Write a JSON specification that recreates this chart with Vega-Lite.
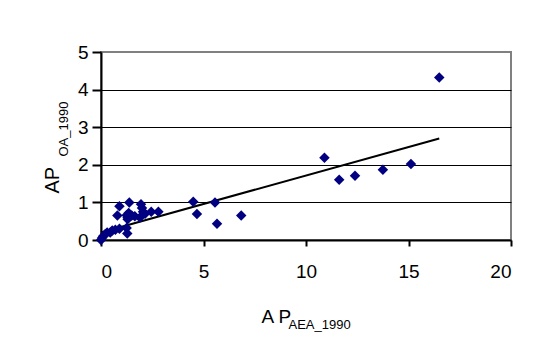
{
  "$schema": "https://vega.github.io/schema/vega-lite/v6.json",
  "autosize": "none",
  "width": 410,
  "height": 188,
  "padding": {"left": 101, "top": 52, "right": 26, "bottom": 111},
  "background": "white",
  "config": {
    "font": "Liberation Sans",
    "view": {"stroke": "#808080", "strokeWidth": 2},
    "axis": {"labelFont": "Liberation Sans", "titleFont": "Liberation Sans", "labelColor": "black", "titleColor": "black", "titleFontWeight": "normal"}
  },
  "datasets": {
    "points": [
      {"x": 0, "y": 0}, {"x": 0.05, "y": 0.05}, {"x": 0.1, "y": 0.1}, {"x": 0.2, "y": 0.15},
      {"x": 0.3, "y": 0.2}, {"x": 0.45, "y": 0.2}, {"x": 0.55, "y": 0.25}, {"x": 0.7, "y": 0.27},
      {"x": 0.9, "y": 0.3}, {"x": 1.25, "y": 0.32}, {"x": 1.28, "y": 0.17},
      {"x": 0.8, "y": 0.65}, {"x": 0.9, "y": 0.9}, {"x": 1.3, "y": 0.6}, {"x": 1.25, "y": 0.66},
      {"x": 1.35, "y": 0.72}, {"x": 1.38, "y": 1.0}, {"x": 1.5, "y": 0.65}, {"x": 1.65, "y": 0.63},
      {"x": 1.9, "y": 0.6}, {"x": 1.95, "y": 0.95}, {"x": 2.0, "y": 0.85}, {"x": 2.05, "y": 0.75},
      {"x": 2.15, "y": 0.7}, {"x": 2.45, "y": 0.75}, {"x": 2.8, "y": 0.75}, {"x": 1.3, "y": 0.55},
      {"x": 4.5, "y": 1.02}, {"x": 4.68, "y": 0.69}, {"x": 5.56, "y": 1.0}, {"x": 5.66, "y": 0.43},
      {"x": 6.84, "y": 0.65}, {"x": 10.9, "y": 2.19}, {"x": 11.62, "y": 1.6}, {"x": 12.39, "y": 1.71},
      {"x": 13.75, "y": 1.87}, {"x": 15.12, "y": 2.02}, {"x": 16.5, "y": 4.32}
    ],
    "trend": [
      {"x": 0, "y": 0.2},
      {"x": 16.5, "y": 2.7}
    ]
  },
  "resolve": {"axis": {"x": "independent", "y": "independent"}},
  "layer": [
    {
      "data": {"name": "trend"},
      "mark": {"type": "line", "color": "black", "strokeWidth": 2},
      "encoding": {
        "x": {
          "field": "x", "type": "quantitative",
          "scale": {"domain": [0, 20], "nice": false, "zero": true},
          "axis": {
            "orient": "bottom", "labels": false, "ticks": false, "domain": false, "grid": false,
            "title": "AEA_1990", "titleFontSize": 13, "titleAlign": "left", "titleBaseline": "alphabetic",
            "titleAnchor": null, "titleX": 187, "titleY": 88
          }
        },
        "y": {
          "field": "y", "type": "quantitative",
          "scale": {"domain": [0, 5], "nice": false, "zero": true},
          "axis": {
            "orient": "left", "labels": false, "ticks": false, "domain": false,
            "grid": true, "values": [1, 2, 3, 4], "gridColor": "black", "gridWidth": 1, "gridOpacity": 1,
            "title": "OA_1990", "titleFontSize": 13, "titleAngle": 270, "titleAlign": "left", "titleBaseline": "alphabetic",
            "titleAnchor": null, "titleX": -34, "titleY": 104
          }
        }
      }
    },
    {
      "data": {"name": "points"},
      "mark": {"type": "point", "shape": "diamond", "filled": true, "color": "#000080", "opacity": 1, "size": 110},
      "encoding": {
        "x": {
          "field": "x", "type": "quantitative",
          "axis": {
            "orient": "bottom", "values": [0, 5, 10, 15, 20], "grid": false,
            "domainColor": "black", "domainWidth": 2, "tickColor": "black", "tickWidth": 2, "tickSize": 6,
            "labelFontSize": 19, "labelPadding": 16,
            "title": "A P", "titleFontSize": 19, "titleAlign": "left", "titleBaseline": "alphabetic",
            "titleAnchor": null, "titleX": 160, "titleY": 82
          }
        },
        "y": {
          "field": "y", "type": "quantitative",
          "axis": {
            "orient": "left", "values": [0, 1, 2, 3, 4, 5], "grid": false,
            "domainColor": "black", "domainWidth": 2, "tickColor": "black", "tickWidth": 2, "tickSize": 9,
            "labelFontSize": 19, "labelPadding": 4,
            "title": "AP", "titleFontSize": 20, "titleAngle": 270, "titleAlign": "left", "titleBaseline": "alphabetic",
            "titleAnchor": null, "titleX": -43, "titleY": 141
          }
        }
      }
    }
  ]
}
